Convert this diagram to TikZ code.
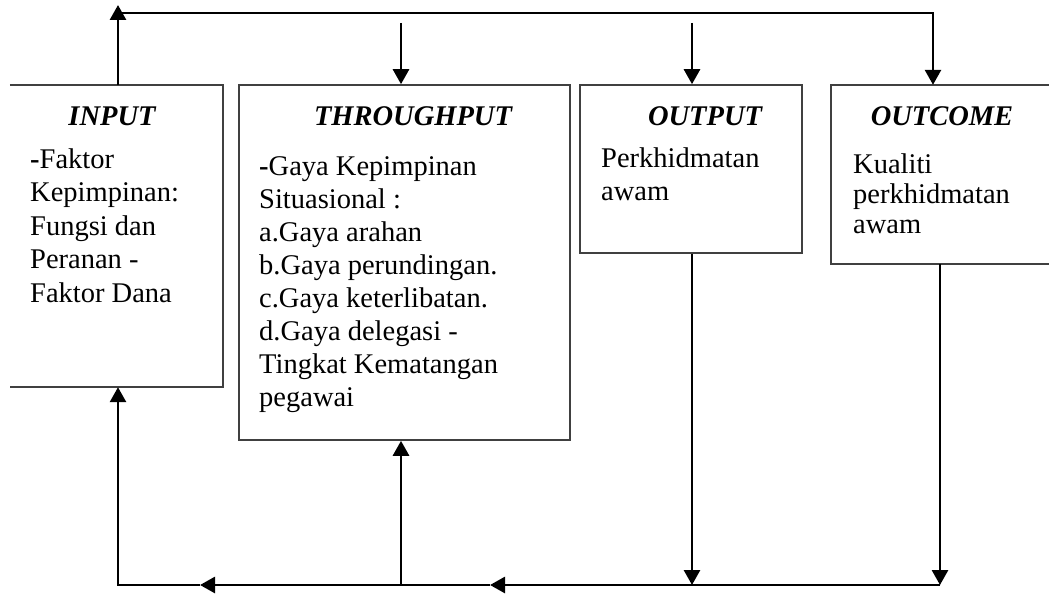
\documentclass[tikz,border=0pt]{standalone}
\usepackage{fontspec}
\setmainfont{Liberation Serif}
\usetikzlibrary{arrows.meta}
\begin{document}
\begin{tikzpicture}[x=1pt,y=-1pt,
  boxline/.style={draw=black!75, line width=1.6pt},
  conn/.style={line width=2.8pt, black, line join=miter},
  arr/.style={conn, -{Triangle[length=15pt,width=16pt]}},
  txt/.style={font=\fontsize{28.5}{33}\selectfont, inner sep=0pt, anchor=base west},
  hd/.style={font=\fontsize{28.5}{33}\selectfont\bfseries\itshape, inner sep=0pt, anchor=base},
  area/.style={draw=none, inner sep=0pt}]
\useasboundingbox (0,0) rectangle (1049,594);
% box areas
\node[area, minimum width=213pt, minimum height=302pt] (inp) at (116.5,236) {};
\node[area, boxline, minimum width=331pt, minimum height=355pt] (thr) at (404.5,262.5) {};
\node[area, boxline, minimum width=222pt, minimum height=168pt] (out) at (691,169) {};
\node[area, minimum width=229pt, minimum height=179pt] (oc) at (945.5,174.5) {};
\draw[boxline] (inp.north west) -- (inp.north east) -- (inp.south east) -- (inp.south west);
\draw[boxline] (oc.north east) -- (oc.north west) -- (oc.south west) -- (oc.south east);
% headings
\node[hd] (hin) at (112,125) {INPUT};
\node[hd] (hthr) at (413,125) {THROUGHPUT};
\node[hd] (hout) at (705,125) {OUTPUT};
\node[hd] (hoc) at (942,125) {OUTCOME};
% input text
\foreach \t [count=\i] in {{\textbf{-}Faktor},{Kepimpinan:},{Fungsi dan},{Peranan -},{Faktor Dana}}
  \node[txt] (tin\i) at (30,{168+33.5*(\i-1)}) {\t};
% throughput text
\foreach \t [count=\i] in {{\textbf{-}Gaya Kepimpinan},{Situasional :},{a.Gaya arahan},{b.Gaya perundingan.},{c.Gaya keterlibatan.},{d.Gaya delegasi -},{Tingkat Kematangan},{pegawai}}
  \node[txt] (tthr\i) at (259,{175+33*(\i-1)}) {\t};
% output text
\foreach \t [count=\i] in {{Perkhidmatan},{awam}}
  \node[txt] (tout\i) at (601,{167+33*(\i-1)}) {\t};
% outcome text
\foreach \t [count=\i] in {{Kualiti},{perkhidmatan},{awam}}
  \node[txt] (toc\i) at (853,{173+30*(\i-1)}) {\t};
% connector points
\coordinate (tl) at (118,13);
\coordinate (tup) at (118,5);
\coordinate (tr) at (933,13);
\coordinate (d1) at (401,23);
\coordinate (d2) at (692,23);
\coordinate (bl) at (118,585);
\coordinate (bt) at (401,585);
\coordinate (bo) at (692,585);
\coordinate (br) at (940,585);
\coordinate (ba1) at (200,585);
\coordinate (ba2) at (490,585);
% top
\draw[arr] (inp.north -| tl) -- (tup);
\draw[arr] (tl) -- (tr) -- (tr |- oc.north);
\draw[arr] (d1) -- (d1 |- thr.north);
\draw[arr] (d2) -- (d2 |- out.north);
% bottom
\draw[arr] (out.south -| bo) -- (bo);
\draw[arr] (oc.south -| br) -- (br);
\draw[arr] (br) -- (ba2);
\draw[arr] (ba2) -- (ba1);
\draw[arr] (ba1) -- (bl) -- (bl |- inp.south);
\draw[arr] (bt) -- (bt |- thr.south);
\end{tikzpicture}
\end{document}
